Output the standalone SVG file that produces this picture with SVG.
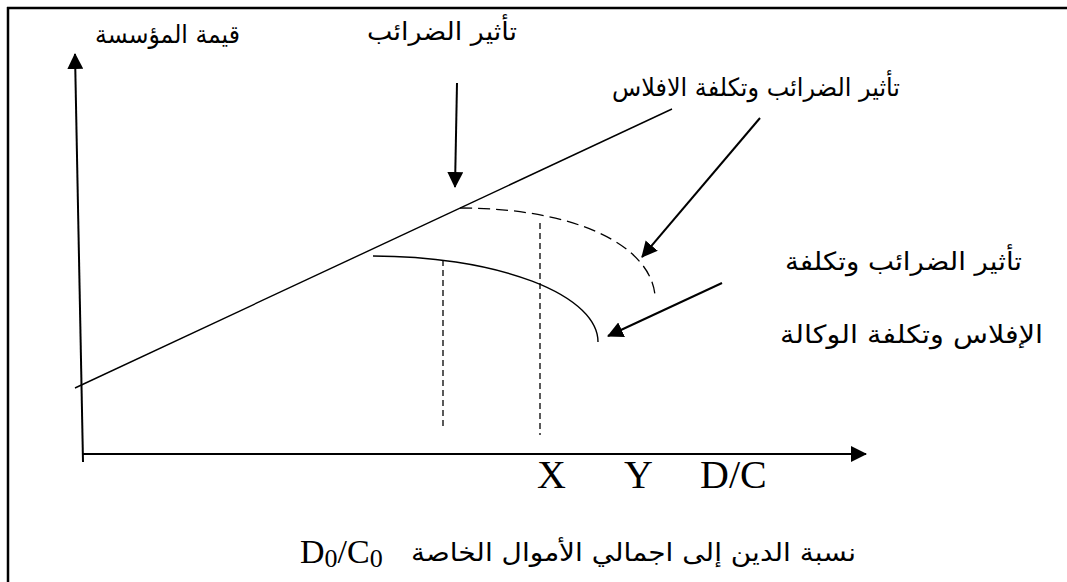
<svg xmlns="http://www.w3.org/2000/svg" width="1067" height="582" viewBox="0 0 1067 582">
<style>
.ar{font-family:"DejaVu Sans",sans-serif;font-size:25px;fill:#000}
.lat{font-family:"Liberation Serif",serif;font-size:40px;fill:#000}
.ln{fill:none;stroke:#000;stroke-width:1.4}
.arr{fill:none;stroke:#000;stroke-width:2;marker-end:url(#ah)}
.dsh{fill:none;stroke:#000;stroke-width:1.3;stroke-dasharray:6 4}
.dsh2{fill:none;stroke:#000;stroke-width:1.3;stroke-dasharray:12 6}
</style>
<defs>
<marker id="ah" markerWidth="16" markerHeight="16" viewBox="0 0 16 16" refX="15" refY="8" orient="auto" markerUnits="userSpaceOnUse">
<path d="M0,0 L16,8 L0,16 Z" fill="#000"/>
</marker>
</defs>
<rect width="1067" height="582" fill="#fff"/>
<g id="frame">
<line x1="7" y1="8" x2="1067" y2="8" stroke="#000" stroke-width="2.5"/>
<line x1="8" y1="7" x2="8" y2="582" stroke="#000" stroke-width="2.5"/>
</g>
<g id="connectors">
<path class="arr" d="M83,462 L75,54"/>
<path class="arr" d="M83,454 L866,454"/>
<path class="arr" d="M457,83 L455,187"/>
<path class="arr" d="M760,118 L642,257"/>
<path class="arr" d="M722,283 L608,336"/>
</g>
<g id="curves">
<line class="ln" x1="75" y1="388" x2="672" y2="109"/>
<path class="dsh2" d="M460,208 C575,208 650,245 655,295"/>
<path class="ln" d="M373,256 A225,86 0 0 1 598,342"/>
<line class="dsh" x1="443" y1="260" x2="443" y2="429"/>
<line class="dsh" x1="540" y1="223" x2="540" y2="435"/>
</g>
<g id="labels">
<text class="ar" x="95" y="43" textLength="145" lengthAdjust="spacingAndGlyphs">قيمة المؤسسة</text>
<text class="ar" x="367" y="40" textLength="150" lengthAdjust="spacingAndGlyphs">تأثير الضرائب</text>
<text class="ar" x="612" y="96" textLength="288" lengthAdjust="spacingAndGlyphs">تأثير الضرائب وتكلفة الافلاس</text>
<text class="ar" x="785" y="270" textLength="237" lengthAdjust="spacingAndGlyphs">تأثير الضرائب وتكلفة</text>
<text class="ar" x="780" y="343" textLength="263" lengthAdjust="spacingAndGlyphs">الإفلاس وتكلفة الوكالة</text>
<text class="lat" x="537" y="488">X</text>
<text class="lat" x="624" y="488">Y</text>
<text class="lat" x="700" y="488">D/C</text>
<text class="ar" x="411" y="561" textLength="445" lengthAdjust="spacingAndGlyphs">نسبة الدين إلى اجمالي الأموال الخاصة</text>
<text class="lat" x="300" y="563" style="font-size:34px">D<tspan dy="4" style="font-size:26px">0</tspan><tspan dy="-4">/C</tspan><tspan dy="4" style="font-size:26px">0</tspan></text>
</g>
</svg>
